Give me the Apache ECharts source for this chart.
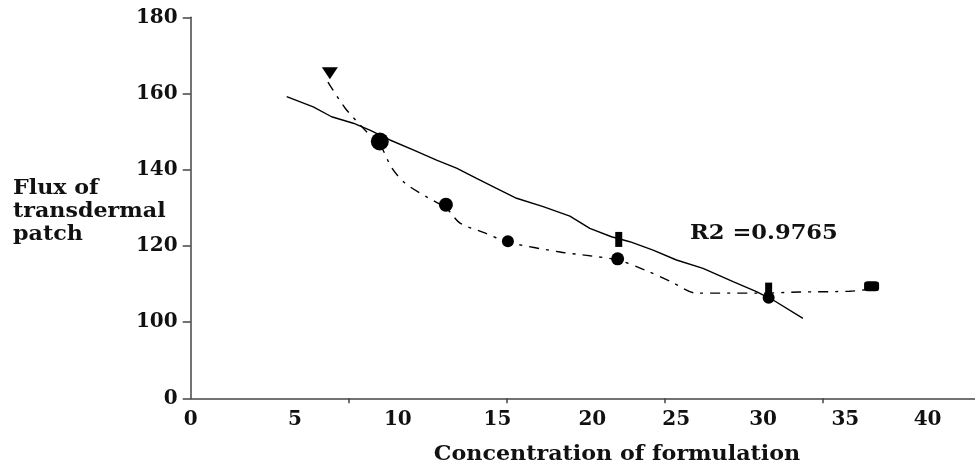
<!DOCTYPE html>
<html>
<head>
<meta charset="utf-8">
<script src="https://cdn.jsdelivr.net/npm/echarts@6.0.0/dist/echarts.min.js"></script>
<style>
  html, body { margin: 0; padding: 0; background: #fff; }
  #chart { width: 975px; height: 464px; }
</style>
</head>
<body>
<div id="chart"></div>
<script>
// x axis: ticks and the (irregularly placed) printed labels
const xTickVals = [10, 20, 30, 40];
const xLabelPos = [0, 6.6, 13.1, 19.4, 25.4, 30.7, 36.2, 41.4, 46.6];
const xLabelText = ['0', '5', '10', '15', '20', '25', '30', '35', '40'];

// y axis is broken: the bottom tick (80 on the scale) is printed as 0
const yTickVals = [80, 100, 120, 140, 160, 180];
const yTickText = ['0', '100', '120', '140', '160', '180'];

// measured points
const dotX = [8.8, 11.96, 16.14, 20.06, 27.0, 36.55, 43.06];
const dotY = [165.3, 147.4, 130.8, 121.2, 116.6, 106.4, 109.4];
const barX = [27.07, 36.55];
const barY = [121.7, 108.4];

// solid trend line
const solidX = [6.07, 7.75, 8.91, 10.28, 11.33, 12.6, 14.07, 15.55, 16.81, 18.08, 19.34, 20.61, 22.29, 23.98, 25.24, 26.61, 27.77, 29.24, 30.72, 32.4, 34.3, 35.78, 36.83, 38.72];
const solidY = [159.2, 156.5, 153.9, 152.2, 150.4, 147.8, 145.2, 142.5, 140.4, 137.7, 135.1, 132.5, 130.3, 127.8, 124.6, 122.4, 121.1, 118.9, 116.3, 114.1, 110.6, 108.0, 105.8, 101.0];

// dash-dot curve through the points
const dashX = [8.68, 9.76, 11.02, 11.97, 12.73, 13.55, 14.94, 16.14, 17.03, 18.6, 20.06, 23.35, 25.25, 27.0, 28.71, 30.42, 32.0, 35.98, 38.5, 41.66, 43.06];
const dashY = [163.0, 156.2, 150.4, 146.5, 140.4, 136.5, 132.8, 130.0, 126.0, 123.4, 121.0, 118.4, 117.4, 116.3, 113.7, 110.5, 107.6, 107.6, 107.9, 108.1, 108.7];

const r2Text = 'R2 =0.9765';
const xTitle = 'Concentration of formulation';
const yTitle = 'Flux of\ntransdermal\npatch';

const zip = (xs, ys) => xs.map((x, i) => [x, ys[i]]);
const font = { fontFamily: 'DejaVu Serif', fontWeight: 'bold', fontSize: 20, color: '#111' };
const textStyle = (extra) => Object.assign({ font: 'bold 20px "DejaVu Serif"', fill: '#111' }, extra);
const dotSize = [[16, 12], 18, 14, 12, 13, 12, [15, 10]];
const dotSymbol = ['triangle', 'circle', 'circle', 'circle', 'circle', 'circle', 'roundRect'];

const chart = echarts.init(document.getElementById('chart'), null, { renderer: 'canvas' });
chart.setOption({
  animation: false,
  backgroundColor: '#fff',
  grid: { left: 190.7, right: 0, top: 17.3, bottom: 65.7, containLabel: false, outerBoundsMode: 'none' },
  xAxis: {
    type: 'value', min: 0, max: 49.6,
    axisLine: { lineStyle: { color: '#444', width: 1.5 } },
    axisTick: { show: true, length: 5, customValues: xTickVals, lineStyle: { color: '#444', width: 1.5 } },
    axisLabel: Object.assign({
      margin: 11,
      customValues: xLabelPos,
      formatter: v => {
        let best = 0;
        xLabelPos.forEach((p, i) => { if (Math.abs(p - v) < Math.abs(xLabelPos[best] - v)) best = i; });
        return xLabelText[best];
      }
    }, font),
    splitLine: { show: false }
  },
  yAxis: {
    type: 'value', min: 80, max: 180, interval: 20,
    axisLine: { show: true, lineStyle: { color: '#444', width: 1.5 } },
    axisTick: { show: true, length: 8, lineStyle: { color: '#444', width: 1.5 } },
    axisLabel: Object.assign({
      margin: 13,
      formatter: v => yTickText[yTickVals.indexOf(v)]
    }, font),
    splitLine: { show: false }
  },
  graphic: [
    { type: 'text', x: 13, y: 177, scaleX: 1.11, style: textStyle({ text: yTitle, lineHeight: 23, verticalAlign: 'top' }) },
    { type: 'text', x: 617, y: 455, scaleX: 1.11, style: textStyle({ text: xTitle, align: 'center', verticalAlign: 'middle' }) },
    { type: 'text', x: 690, y: 234, scaleX: 1.13, style: textStyle({ text: r2Text, verticalAlign: 'middle' }) }
  ],
  series: [
    {
      type: 'line', data: zip(solidX, solidY), symbol: 'none', smooth: false,
      lineStyle: { color: '#000', width: 1.4 }
    },
    {
      type: 'line', data: zip(dashX, dashY), symbol: 'none', smooth: 0.3,
      lineStyle: { color: '#000', width: 1.4, type: [10, 7, 3, 7] }
    },
    {
      type: 'scatter', data: zip(dotX, dotY),
      symbol: (v, p) => dotSymbol[p.dataIndex],
      symbolRotate: 180,
      symbolSize: (v, p) => dotSize[p.dataIndex],
      itemStyle: { color: '#000', opacity: 1 }
    },
    {
      type: 'scatter', data: zip(barX, barY), symbol: 'rect', symbolSize: [7, 15],
      itemStyle: { color: '#000', opacity: 1 }
    }
  ]
});
</script>
</body>
</html>
